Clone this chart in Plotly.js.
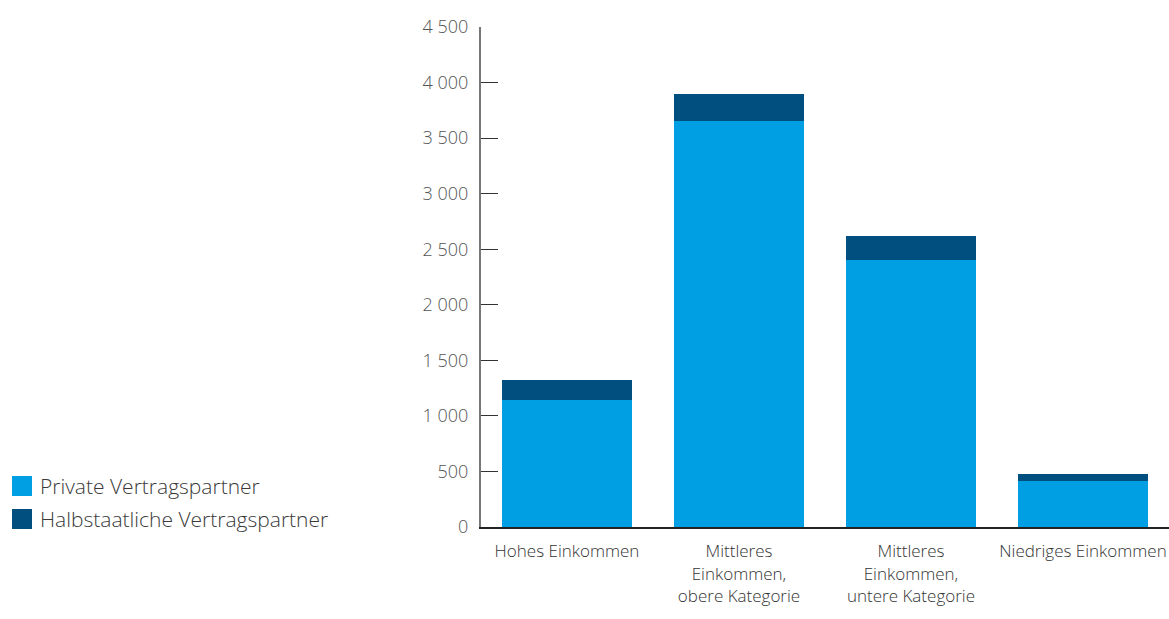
<!DOCTYPE html>
<html>
<head>
<meta charset="utf-8">
<script src="https://cdn.plot.ly/plotly-3.0.1.min.js"></script>
<style>html,body{margin:0;padding:0;background:#fff;}#chart{width:1169px;height:619px;}</style>
</head>
<body>
<div id="chart"></div>
<script>
const categories = ["Hohes Einkommen", "Mittleres<br>Einkommen,<br>obere Kategorie", "Mittleres<br>Einkommen,<br>untere Kategorie", "Niedriges Einkommen"];
const privateValues = [1144, 3650, 2405, 418];
const semiStateValues = [180, 250, 217, 62];
const seriesNames = ["Private Vertragspartner", "Halbstaatliche Vertragspartner"];
const seriesColors = ["#009fe3", "#004f7f"];
const yTicks = [0, 500, 1000, 1500, 2000, 2500, 3000, 3500, 4000, 4500];

const FONT = "'Open Sans', sans-serif";

const data = [
  {type: "bar", name: seriesNames[0], x: categories, y: privateValues, marker: {color: seriesColors[0]}, hoverinfo: "skip", showlegend: false},
  {type: "bar", name: seriesNames[1], x: categories, y: semiStateValues, marker: {color: seriesColors[1]}, hoverinfo: "skip", showlegend: false}
];

// Legend drawn as squares + text on the left
const legendShapes = [];
const legendAnnotations = [];
seriesNames.forEach((name, i) => {
  const yTop = 476 + i * 33;
  legendShapes.push({
    type: "rect", xref: "paper", yref: "paper", xsizemode: "pixel", ysizemode: "pixel",
    xanchor: 0, yanchor: 0,
    x0: -469, x1: -449, y0: (92 - 619 + yTop + 20) * -1, y1: (92 - 619 + yTop) * -1,
    fillcolor: seriesColors[i], line: {width: 0}
  });
  legendAnnotations.push({
    xref: "paper", yref: "paper", x: (38 - 481) / 688, y: (619 - 92 - (yTop + 10)) / 500,
    xanchor: "left", yanchor: "middle", showarrow: false, text: name,
    font: {family: FONT, size: 21, color: "#3a3a3a", weight: 300}
  });
});

const layout = {
  width: 1169, height: 619,
  barmode: "stack",
  bargap: 0.24,
  separators: ". ",
  margin: {l: 481, r: 0, t: 27, b: 92},
  paper_bgcolor: "#fff", plot_bgcolor: "#fff",
  font: {family: FONT, color: "#444", size: 17, weight: 300},
  xaxis: {
    showline: true, linecolor: "#222", linewidth: 2,
    ticks: "", showgrid: false, zeroline: false, ticklabelstandoff: 8,
    tickfont: {family: FONT, size: 17, color: "#333", weight: 300}, automargin: false
  },
  yaxis: {
    range: [0, 4500], tickvals: yTicks, separatethousands: true, tickformat: ",d",
    showline: true, linecolor: "#777", linewidth: 2,
    ticks: "inside", ticklen: 17, tickcolor: "#333", tickwidth: 1,
    showgrid: false, zeroline: false, ticklabelstandoff: 7,
    tickfont: {family: FONT, size: 18, color: "#555", weight: 300}, automargin: false
  },
  shapes: legendShapes,
  annotations: legendAnnotations,
  showlegend: false
};

Plotly.newPlot("chart", data, layout, {displayModeBar: false, staticPlot: true});
</script>
</body>
</html>
